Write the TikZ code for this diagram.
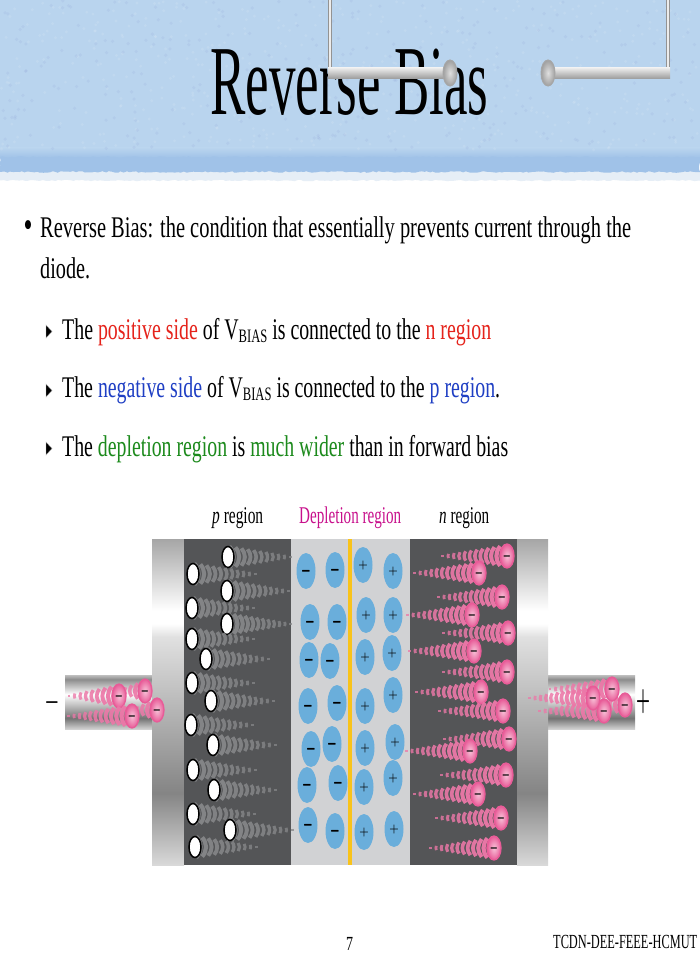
\documentclass[tikz,border=0pt]{standalone}
\usepackage{fontspec}
\usepackage{graphicx}
\setmainfont{Liberation Serif}
\usetikzlibrary{decorations.pathmorphing,shapes.geometric}
\definecolor{skyb}{HTML}{B9D4EE}
\definecolor{bandb}{HTML}{A0C2E8}
\definecolor{foamb}{HTML}{E6EEF6}
\definecolor{darkreg}{HTML}{545557}
\definecolor{deplreg}{HTML}{D1D2D4}
\definecolor{ionb}{HTML}{6AAEDB}
\definecolor{pinke}{HTML}{E85C98}
\definecolor{pinkl}{HTML}{F7C3D8}
\definecolor{pinkt}{HTML}{EC78A8}
\definecolor{grayt}{HTML}{858688}
\definecolor{yel}{HTML}{F9C31A}
\definecolor{redt}{HTML}{E5231B}
\definecolor{bluet}{HTML}{1F3FC4}
\definecolor{greent}{HTML}{1C8A1C}
\definecolor{magt}{HTML}{C8108C}
\newcommand{\fitw}[3]{\resizebox{#1pt}{\height}{\fontsize{#2}{#2}\selectfont #3\strut}}
\newcommand{\subb}[1]{\raisebox{-3pt}{\fontsize{19}{19}\selectfont #1}}
\newcommand{\tailfan}[4]{%
  \pgfmathsetmacro{\tlen}{abs(#3-#1)}%
  \pgfmathtruncatemacro{\tnum}{max(4,round(\tlen/5.6))}%
  \pgfmathsetmacro{\tdir}{(#3>#1)?1:-1}%
  \foreach \k in {1,...,\tnum}{%
    \pgfmathsetmacro{\tf}{(\k-0.3)/\tnum}%
    \pgfmathsetmacro{\tx}{#1+\tdir*\tlen*\tf}%
    \pgfmathsetmacro{\th}{10.2*(1-\tf)+1}%
    \pgfmathsetmacro{\tb}{\tdir*3.0*(1-\tf)}%
    \pgfmathsetmacro{\tw}{4.4-1.8*\tf}%
    \pgfmathsetmacro{\top}{1-.25*\tf}%
    \draw[#4,opacity=\top,line width=\tw pt] (\tx-\tb,#2-\th) .. controls (\tx+\tb,#2-\th*.4) and (\tx+\tb,#2+\th*.4) .. (\tx-\tb,#2+\th);
  }}
\newcommand{\ionminus}{\scalebox{.75}[2]{\boldmath$-$}}
\newcommand{\ionplus}{\scalebox{.9}[1]{\boldmath$+$}}
\newcommand{\elecminus}{\scalebox{.9}[2]{\boldmath$-$}}
\tikzset{
  txt/.style={inner sep=0pt,anchor=base west},
  bracketh/.style={top color=white!85!gray,bottom color=gray!80},
  knob/.style={ellipse,minimum width=14pt,minimum height=26pt,inner sep=0pt,draw=gray!70,line width=1pt,inner color=gray!25,outer color=gray!75},
  holep/.style={ellipse,draw=black,line width=1.5pt,fill=white,minimum width=12pt,minimum height=21pt,inner sep=0pt},
  ionp/.style={ellipse,fill=ionb,minimum width=19pt,minimum height=36pt,inner sep=0pt},
  ionm/.style={ionp,font=\fontsize{14}{14}\selectfont},
  ionq/.style={ionp,font=\fontsize{13}{13}\selectfont},
  elecp/.style={ellipse,draw=pinke,line width=1.3pt,inner color=pinkl,outer color=pinke,minimum width=14pt,minimum height=24pt,inner sep=0pt,font=\fontsize{10}{10}\selectfont},
  tribul/.style={fill=black,draw=gray!50,line width=.4pt}
}
\pgfdeclareverticalshading{metalv}{100bp}{
  color(0bp)=(white!85!black);color(25bp)=(white!85!black);color(36bp)=(white!52!black);color(60bp)=(white!88!black);
  color(62bp)=(white);color(64bp)=(white);color(75bp)=(white!65!black);color(100bp)=(white!65!black)}
\pgfdeclareverticalshading{wirev}{100bp}{
  color(0bp)=(white!82!black);color(25bp)=(white!82!black);color(35bp)=(white!45!black);color(57bp)=(white);color(71bp)=(white!55!black);color(75bp)=(white!75!black);color(100bp)=(white!75!black)}
\begin{document}
\begin{tikzpicture}[x=1pt,y=-1pt]
\useasboundingbox (0,0) rectangle (700,960);
\fill[white] (0,0) rectangle (700,960);
\fill[skyb] (0,0) rectangle (700,150);
\pgfmathsetseed{7}
\fill[foamb,decorate,decoration={random steps,segment length=3pt,amplitude=.7pt}] (0,171) -- (700,171) -- (700,180.5) -- (0,180.5) -- cycle;
\shade[top color=skyb,bottom color=bandb] (0,148) rectangle (700,158);
\fill[bandb,decorate,decoration={random steps,segment length=3pt,amplitude=.8pt}] (0,157) -- (700,157) -- (700,172) -- (0,172) -- cycle;
\foreach \n in {1,...,500}{
  \pgfmathsetmacro{\ax}{rnd*700}\pgfmathsetmacro{\ay}{rnd*150}
  \fill[white,opacity=.10] (\ax,\ay) circle (1.6pt);}
\foreach \n in {1,...,300}{
  \pgfmathsetmacro{\ax}{rnd*700}\pgfmathsetmacro{\ay}{rnd*150}
  \fill[blue!40!gray,opacity=.06] (\ax,\ay) circle (1.8pt);}
\node[txt] (title) at (210,115) {\resizebox{278pt}{\height}{\fontsize{99}{99}\selectfont Reverse Bias}};
\fill[gray!85] (327.5,0) rectangle (332,79);
\fill[white!85!gray] (329,0) rectangle (330.5,72);
\shade[bracketh] (328,68) rectangle (450,79);
\node[knob] (knobl) at (450,73) {};
\fill[gray!85] (665.5,0) rectangle (670,79);
\fill[white!85!gray] (667,0) rectangle (668.5,72);
\shade[bracketh] (548,68) rectangle (670,79);
\node[knob] (knobr) at (548,73) {};
\node[txt] (bul) at (23.5,237) {\scalebox{.85}[1.25]{\fontsize{30}{30}\selectfont •}};
\node[txt] (l1) at (40,237) {\fitw{591}{30}{Reverse Bias: the condition that essentially prevents current through the}};
\node[txt] (l2) at (40,278) {\fitw{50}{30}{diode.}};
\foreach \yy/\nm in {339/t1,398/t2,456/t3}{
  \filldraw[tribul] (46,\yy-14) -- (52,\yy-7.5) -- (46,\yy-1) -- cycle;}
\node[txt] (l3) at (62,339) {\fitw{429}{30}{The \textcolor{redt}{positive side} of V\subb{BIAS} is connected to the \textcolor{redt}{n region}}};
\node[txt] (l4) at (62,397) {\fitw{438}{30}{The \textcolor{bluet}{negative side} of V\subb{BIAS} is connected to the \textcolor{bluet}{p region}.}};
\node[txt] (l5) at (62,456) {\fitw{446}{30}{The \textcolor{greent}{depletion region} is \textcolor{greent}{much wider} than in forward bias}};
\node[txt] (lp) at (212,523) {\fitw{51}{24}{\textit{p} region}};
\node[txt] (ld) at (299,523) {\fitw{102}{24}{\textcolor{magt}{Depletion region}}};
\node[txt] (ln) at (439,523) {\fitw{50}{24}{\textit{n} region}};
\node[txt] (pg) at (346,950) {\fitw{7}{20}{7}};
\node[txt] (foot) at (553,948) {\fitw{144}{20}{TCDN-DEE-FEEE-HCMUT}};
\shade[shading=wirev] (65,675) rectangle (152,729);
\shade[shading=wirev] (548,675) rectangle (635,729);
\shade[shading=metalv] (152,539) rectangle (184,865);
\shade[shading=metalv] (517,539) rectangle (548,865);
\fill[darkreg] (184,539) rectangle (291,865);
\fill[deplreg] (291,539) rectangle (410,865);
\fill[darkreg] (410,539) rectangle (517,865);
\fill[yel] (348,539) rectangle (352,865);
\foreach \hx/\hy/\he [count=\i] in {228/557/292,193/574/257,227/591/290,192/608/255,227/624/292,192/639/255,206/659/270,192/683/255,211/701/275,191/725/254,213/745/277,193/770/257,214/790/277,193/814/256,230/830/294,195/847/258}{
  \tailfan{\hx}{\hy}{\he}{grayt}
  \node[holep] (h\i) at (\hx,\hy) {};
}
\foreach \ix/\iy [count=\i] in {306/571,335/570,310/622,337/622,309/660,330/661,308/706,337/703,311/749,332/744,307/785,338/783,308/825,335/831}{
  \node[ionm] (nion\i) at (\ix,\iy) {\ionminus};
}
\foreach \ix/\iy [count=\i] in {363/565,393/571,366/615,393/615,365/657,392/653,365/706,393/695,365/748,395/742,364/787,393/778,364/832,394/829}{
  \node[ionq] (pion\i) at (\ix,\iy) {\ionplus};
}
\foreach \ex/\ey/\ee [count=\i] in {507/556/441,479/573/413,502/597/437,472/615/406,508/633/442,474/651/408,507/672/442,481/692/415,503/711/438,509/739/443,470/751/405,506/775/440,478/794/413,501/818/435,494/848/429}{
  \tailfan{\ex}{\ey}{\ee}{pinkt}
  \node[elecp] (e\i) at (\ex,\ey) {\elecminus};
}
\foreach \ex/\ey/\ee [count=\i] in {145/691/118,157/710/130,119/696/67,132/716/67}{
  \tailfan{\ex}{\ey}{\ee}{pinkt}
  \node[elecp] (wl\i) at (\ex,\ey) {\elecminus};
}
\foreach \ex/\ey/\ee [count=\i] in {625/705/598,612/689/548,604/711/538,593/698/528}{
  \tailfan{\ex}{\ey}{\ee}{pinkt}
  \node[elecp] (wr\i) at (\ex,\ey) {\elecminus};
}
\node[inner sep=0pt,font=\fontsize{19}{19}\selectfont] (minusT) at (52,702.5) {\scalebox{.95}[1.6]{\boldmath$-$}};
\node[inner sep=0pt] (plusT) at (643,702) {\resizebox{14pt}{20pt}{\boldmath$+$}};
\end{tikzpicture}
\end{document}
